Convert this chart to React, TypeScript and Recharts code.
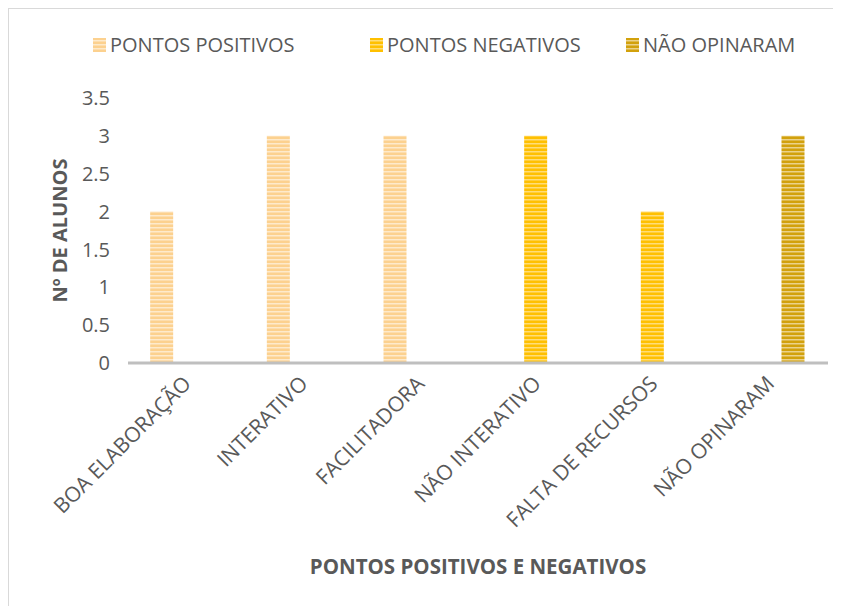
import React from 'react';
import { BarChart, Bar, XAxis, YAxis, Legend } from 'recharts';

const categories = ['BOA ELABORAÇÃO', 'INTERATIVO', 'FACILITADORA', 'NÃO INTERATIVO', 'FALTA DE RECURSOS', 'NÃO OPINARAM'];
const positivos = [2, 3, 3, 0, 0, 0];
const negativos = [0, 0, 0, 3, 2, 0];
const naoOpinaram = [0, 0, 0, 0, 0, 3];
const yTicks = [0, 0.5, 1, 1.5, 2, 2.5, 3, 3.5];

const seriesNames = ['PONTOS POSITIVOS', 'PONTOS NEGATIVOS', 'NÃO OPINARAM'];

const data = categories.map((c, i) => ({
  name: c,
  pos: positivos[i],
  neg: negativos[i],
  nao: naoOpinaram[i],
}));

const FONT = '"Open Sans", "Noto Sans", sans-serif';
const TEXT = '#595959';

const patterns = [
  { id: 'patPos', base: '#FCD18F', light: '#FEEACB' },
  { id: 'patNeg', base: '#FFC000', light: '#FFDD77' },
  { id: 'patNao', base: '#D2A10C', light: '#EBD28A' },
];

const legendX = [84, 361, 617];

const Patterns = () => (
  <svg width={0} height={0} style={{ position: 'absolute' }}>
    <defs>
      {patterns.map((p) => (
        <pattern key={p.id} id={p.id} patternUnits="userSpaceOnUse" width={8} height={4}>
          <rect x={0} y={0} width={8} height={4} fill={p.base} />
          <rect x={0} y={2} width={8} height={1.5} fill={p.light} />
        </pattern>
      ))}
    </defs>
  </svg>
);

const LegendContent = () => (
  <div style={{ position: 'relative', height: 26, fontFamily: FONT, fontSize: 20, color: TEXT, lineHeight: '26px' }}>
    {seriesNames.map((n, i) => (
      <div key={n} style={{ position: 'absolute', left: legendX[i], top: 0, display: 'flex', alignItems: 'center', whiteSpace: 'nowrap' }}>
        <svg width={13} height={14} style={{ marginRight: 4 }}>
          <rect x={0} y={0} width={13} height={14} fill={`url(#${patterns[i].id})`} />
        </svg>
        <span>{n}</span>
      </div>
    ))}
  </div>
);

const XTick = (props: any) => {
  const { x, y, payload } = props;
  return (
    <text
      transform={`translate(${x + 6},${y + 14}) rotate(-45)`}
      textAnchor="end"
      fontFamily={FONT}
      fontSize={21}
      fill={TEXT}
    >
      {payload.value}
    </text>
  );
};

export default function App() {
  return (
    <div style={{ position: 'relative', width: 840, height: 600, borderLeft: '1px solid #D9D9D9', borderTop: '1px solid #D9D9D9', background: '#fff' }}>
      <Patterns />
      <BarChart
        width={833}
        height={597}
        data={data}
        margin={{ top: 63, right: 14, left: 59, bottom: 10 }}
        barCategoryGap="19%"
        barGap={1}
      >
        <Legend verticalAlign="top" content={<LegendContent />} wrapperStyle={{ top: 23, left: 0, width: 833 }} />
        <XAxis
          dataKey="name"
          axisLine={{ stroke: '#BFBFBF', strokeWidth: 3 }}
          tickLine={false}
          tick={<XTick />}
          interval={0}
          height={233}
          label={{ value: 'PONTOS POSITIVOS E NEGATIVOS', position: 'insideBottom', offset: 22, fontFamily: FONT, fontSize: 20.5, fontWeight: 'bold', fill: TEXT }}
        />
        <YAxis
          domain={[0, 3.5]}
          ticks={yTicks}
          axisLine={false}
          tickLine={false}
          tickMargin={12}
          width={60}
          tick={{ fontFamily: FONT, fontSize: 20, fill: TEXT }}
          label={{ value: 'Nº DE ALUNOS', angle: -90, position: 'center', dx: -38, fontFamily: FONT, fontSize: 20, fontWeight: 'bold', fill: TEXT }}
        />
        <Bar dataKey="pos" name={seriesNames[0]} fill="url(#patPos)" isAnimationActive={false} />
        <Bar dataKey="neg" name={seriesNames[1]} fill="url(#patNeg)" isAnimationActive={false} />
        <Bar dataKey="nao" name={seriesNames[2]} fill="url(#patNao)" isAnimationActive={false} />
      </BarChart>
    </div>
  );
}
